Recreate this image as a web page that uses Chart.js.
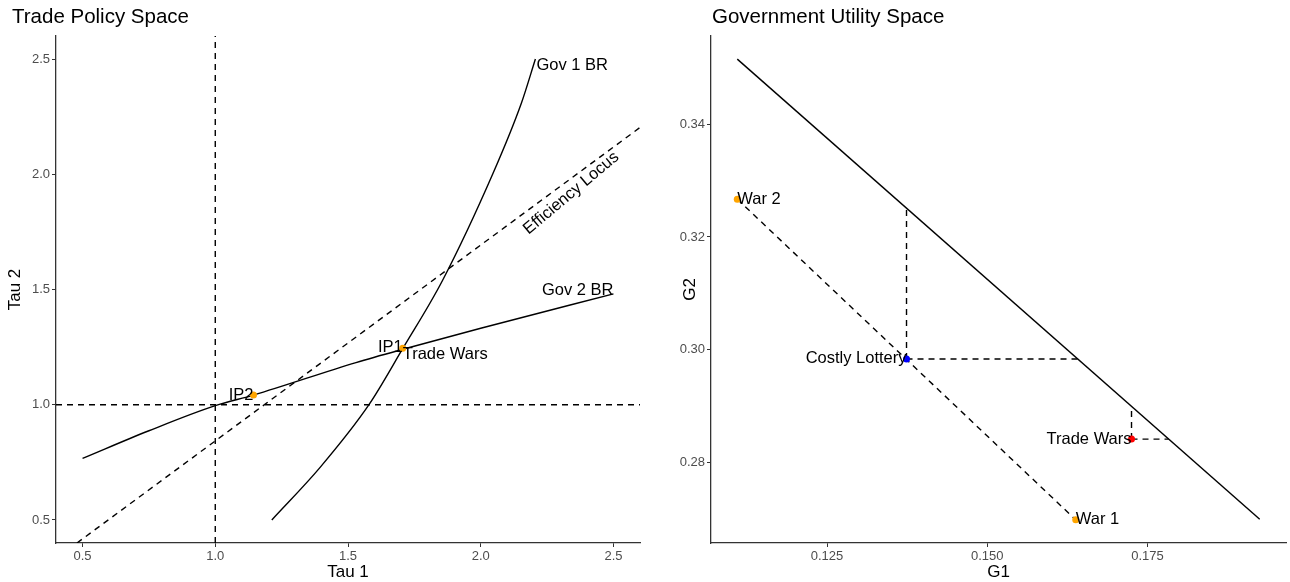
<!DOCTYPE html>
<html>
<head>
<meta charset="utf-8">
<title>Trade Policy Space / Government Utility Space</title>
<script src="https://cdn.jsdelivr.net/npm/chart.js"></script>
<style>
  html, body { margin: 0; padding: 0; background: #fff; }
  .wrap { display: flex; width: 1290px; height: 582px; }
  .panel { position: relative; width: 645px; height: 582px; }
</style>
</head>
<body>
<div class="wrap">
  <div class="panel"><canvas id="policyChart"></canvas></div>
  <div class="panel"><canvas id="utilityChart"></canvas></div>
</div>
<script>
// --- trade policy space (left) ---
const tau1Ticks = [0.5, 1.0, 1.5, 2.0, 2.5];
const tau2Ticks = [0.5, 1.0, 1.5, 2.0, 2.5];
const gov1Tau1 = [1.213, 1.395, 1.579, 1.706, 1.856, 2.046, 2.153, 2.206];
const gov1Tau2 = [0.5, 0.728, 1.0, 1.243, 1.539, 2.003, 2.308, 2.5];
const gov2Tau1 = [0.5, 0.75, 1.0, 1.144, 1.53, 1.714, 2.0, 2.5];
const gov2Tau2 = [0.767, 0.887, 0.996, 1.042, 1.183, 1.243, 1.332, 1.481];
const effTau1 = [0.479, 2.6];
const effTau2 = [0.4, 2.203];
const ipTau1 = [1.706, 1.144];   // IP1, IP2
const ipTau2 = [1.245, 1.042];
const freeTrade = 1.0;           // dashed lines at tau = 1

// --- government utility space (right) ---
const g1Ticks = [0.125, 0.150, 0.175];
const g2Ticks = [0.28, 0.30, 0.32, 0.34];
const frontierG1 = [0.111, 0.1925];
const frontierG2 = [0.3515, 0.2700];
const war1 = [0.1638, 0.2699];
const war2 = [0.111, 0.3267];
const lottery = [0.1374, 0.2984];
const tradeWars = [0.1725, 0.2842];
const lotteryUpG2 = 0.3251, lotteryRightG1 = 0.1641;
const tradeWarsUpG2 = 0.2900, tradeWarsRightG1 = 0.1783;

const FONT = '"Liberation Sans", Arial, sans-serif';
Chart.defaults.font.family = FONT;
Chart.defaults.animation = false;

function pts(xs, ys) { return xs.map((v, i) => ({ x: v, y: ys[i] })); }

// draws panel title and the text annotations
const textMarks = {
  id: 'textMarks',
  afterDatasetsDraw(chart, args, opts) {
    const { ctx, scales: { x, y } } = chart;
    ctx.save();
    ctx.fillStyle = '#000';
    ctx.font = '16.5px ' + FONT;
    (opts.items || []).forEach(it => {
      const px = x.getPixelForValue(it.x) + (it.dx || 0);
      const py = y.getPixelForValue(it.y) + (it.dy || 0);
      ctx.save();
      ctx.translate(px, py);
      if (it.angle) ctx.rotate(it.angle * Math.PI / 180);
      ctx.textAlign = it.align || 'left';
      ctx.textBaseline = it.baseline || 'middle';
      ctx.fillText(it.text, 0, 0);
      ctx.restore();
    });
    ctx.font = '20.5px ' + FONT;
    ctx.textAlign = 'left';
    ctx.textBaseline = 'middle';
    ctx.fillText(opts.title, opts.titleX, 17);
    ctx.restore();
  }
};
Chart.register(textMarks);

function line(data, dashed) {
  return {
    data: data, showLine: true, pointRadius: 0, borderColor: '#000',
    borderWidth: 1.4, borderDash: dashed ? [6, 5] : [], fill: false
  };
}
function dots(data, color) {
  return { data: data, pointRadius: 3.5, pointBackgroundColor: color, pointBorderWidth: 0, showLine: false };
}

function axis(pos, min, max, ticks, digits, title, size, titlePad) {
  return {
    type: 'linear', position: pos, min: min, max: max,
    afterBuildTicks: s => { s.ticks = ticks.map(v => ({ value: v })); },
    afterFit: s => { if (pos === 'left') s.width = size; else s.height = size; },
    ticks: { color: '#4d4d4d', font: { size: 13 }, padding: 2, callback: v => v.toFixed(digits) },
    grid: { display: true, drawOnChartArea: false, drawTicks: true, tickLength: 4, color: '#333' },
    border: { display: true, color: '#333', width: 1.3 },
    title: { display: true, text: title, color: '#000', font: { size: 17 }, padding: titlePad }
  };
}

function baseOptions(pad) {
  return {
    responsive: true, maintainAspectRatio: false,
    layout: { padding: pad },
    plugins: { legend: { display: false }, tooltip: { enabled: false } }
  };
}

// left chart
const leftOpts = baseOptions({ top: 36, right: 5, left: 0, bottom: 0 });
leftOpts.scales = {
  x: axis('bottom', 0.4, 2.6, tau1Ticks, 1, 'Tau 1', 39, { top: 0, bottom: -1 }),
  y: axis('left', 0.4, 2.6, tau2Ticks, 1, 'Tau 2', 56, { top: 5, bottom: 0 })
};
leftOpts.plugins.textMarks = {
  title: 'Trade Policy Space', titleX: 12,
  items: [
    { text: 'Gov 1 BR', x: gov1Tau1[gov1Tau1.length - 1], y: gov1Tau2[gov1Tau2.length - 1], align: 'left', dx: 1, dy: 6 },
    { text: 'Gov 2 BR', x: gov2Tau1[gov2Tau1.length - 1], y: gov2Tau2[gov2Tau2.length - 1], align: 'right', baseline: 'alphabetic', dy: 1 },
    { text: 'Efficiency Locus', x: 2.341, y: 1.918, align: 'center', angle: -40 },
    { text: 'IP1', x: ipTau1[0], y: ipTau2[0], align: 'right', dy: -1 },
    { text: 'Trade Wars', x: ipTau1[0], y: ipTau2[0], align: 'left', baseline: 'top', dy: -2 },
    { text: 'IP2', x: ipTau1[1], y: ipTau2[1], align: 'right' }
  ]
};
new Chart(document.getElementById('policyChart'), {
  type: 'scatter',
  data: {
    datasets: [
      dots(pts(ipTau1, ipTau2), '#FFA500'),
      line(pts(gov1Tau1, gov1Tau2), false),
      line(pts(gov2Tau1, gov2Tau2), false),
      line(pts(effTau1, effTau2), true),
      line([{ x: freeTrade, y: 0.4 }, { x: freeTrade, y: 2.6 }], true),
      line([{ x: 0.4, y: freeTrade }, { x: 2.6, y: freeTrade }], true)
    ].map((d, i) => (i === 1 || i === 2) ? Object.assign(d, { cubicInterpolationMode: 'monotone' }) : d)
  },
  options: leftOpts
});

// right chart
const rightOpts = baseOptions({ top: 36, right: 3, left: 0, bottom: 0 });
rightOpts.scales = {
  x: axis('bottom', 0.1069, 0.1966, g1Ticks, 3, 'G1', 39, { top: 0, bottom: -1 }),
  y: axis('left', 0.2658, 0.3556, g2Ticks, 2, 'G2', 66, { top: 35, bottom: 0 })
};
rightOpts.plugins.textMarks = {
  title: 'Government Utility Space', titleX: 67,
  items: [
    { text: 'War 2', x: war2[0], y: war2[1], align: 'left' },
    { text: 'War 1', x: war1[0], y: war1[1], align: 'left' },
    { text: 'Costly Lottery', x: lottery[0], y: lottery[1], align: 'right' },
    { text: 'Trade Wars', x: tradeWars[0], y: tradeWars[1], align: 'right' }
  ]
};
new Chart(document.getElementById('utilityChart'), {
  type: 'scatter',
  data: {
    datasets: [
      dots([{ x: war1[0], y: war1[1] }, { x: war2[0], y: war2[1] }], '#FFA500'),
      dots([{ x: lottery[0], y: lottery[1] }], '#0000FF'),
      dots([{ x: tradeWars[0], y: tradeWars[1] }], '#FF0000'),
      line(pts(frontierG1, frontierG2), false),
      line([{ x: war2[0], y: war2[1] }, { x: war1[0], y: war1[1] }], true),
      line([{ x: lottery[0], y: lottery[1] }, { x: lottery[0], y: lotteryUpG2 }], true),
      line([{ x: lottery[0], y: lottery[1] }, { x: lotteryRightG1, y: lottery[1] }], true),
      line([{ x: tradeWars[0], y: tradeWars[1] }, { x: tradeWars[0], y: tradeWarsUpG2 }], true),
      line([{ x: tradeWars[0], y: tradeWars[1] }, { x: tradeWarsRightG1, y: tradeWars[1] }], true)
    ]
  },
  options: rightOpts
});
</script>
</body>
</html>
